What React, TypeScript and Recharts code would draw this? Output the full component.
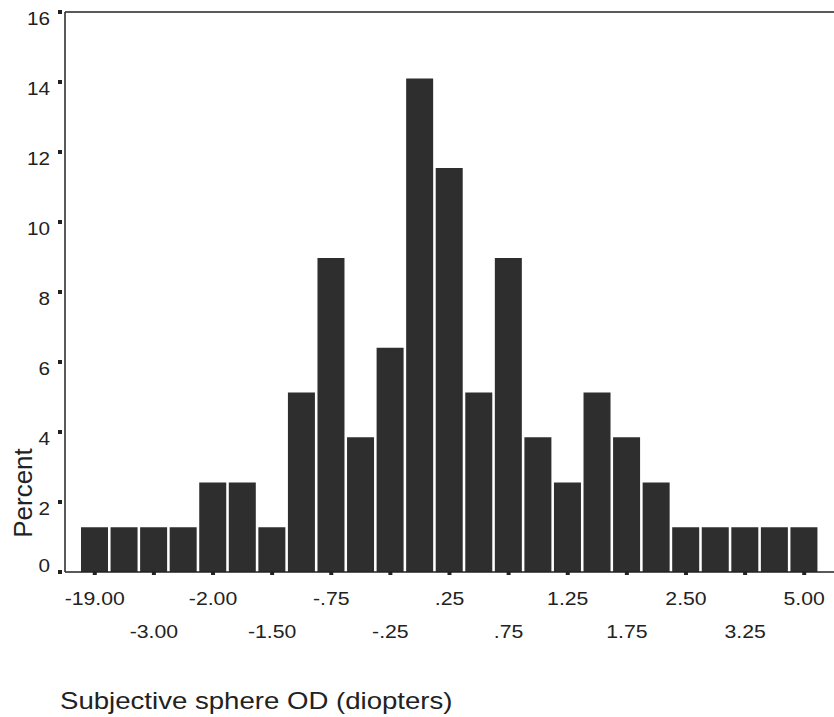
import { BarChart, Bar, XAxis, YAxis, ReferenceLine, Label } from 'recharts'

// refraction bins (diopters); odd bins have no printed label
const categories = [
  '-19.00', '-4.00', '-3.00', '-2.50', '-2.00', '-1.75', '-1.50', '-1.00', '-.75', '-.50',
  '-.25', '.00', '.25', '.50', '.75', '1.00', '1.25', '1.50', '1.75', '2.00',
  '2.50', '2.75', '3.25', '4.00', '5.00',
]
const percents = [
  1.28, 1.28, 1.28, 1.28, 2.56, 2.56, 1.28, 5.13, 8.97, 3.85,
  6.41, 14.1, 11.54, 5.13, 8.97, 3.85, 2.56, 5.13, 3.85, 2.56,
  1.28, 1.28, 1.28, 1.28, 1.28,
]
const yTicks = [0, 2, 4, 6, 8, 10, 12, 14, 16]

const data = categories.map((c, i) => ({ bin: c, percent: percents[i] }))

const INK = '#222'
const FONT = 'Arial, "Liberation Sans", sans-serif'

const XTick = (props: any) => {
  const { x, y, payload } = props
  const i = payload.index
  if (i % 2 !== 0) return null
  const row = (i / 2) % 2
  return (
    <g transform={`translate(${x},${y})`}>
      <rect x={-2} y={0} width={4} height={3} fill={INK} />
      <text
        transform={`translate(0,${row === 0 ? 33 : 66}) scale(1.18,1)`}
        textAnchor="middle"
        fontSize={18}
        fontFamily={FONT}
        fill={INK}
      >
        {payload.value}
      </text>
    </g>
  )
}

const YTick = (props: any) => {
  const { x, y, payload } = props
  const dy = payload.value === 0 ? 0 : 13
  return (
    <g transform={`translate(${x},${y})`}>
      <rect x={-7} y={-2} width={4} height={4} fill={INK} />
      <text
        transform={`translate(-15,${dy}) scale(1.15,1)`}
        textAnchor="end"
        fontSize={18}
        fontFamily={FONT}
        fill={INK}
      >
        {payload.value}
      </text>
    </g>
  )
}

const YTitle = (props: any) => {
  const vb = props.viewBox
  return (
    <text
      transform={`translate(${vb.x + 32},${vb.y + 481}) rotate(-90)`}
      textAnchor="middle"
      fontSize={26}
      fontFamily={FONT}
      fill={INK}
    >
      Percent
    </text>
  )
}

const XTitle = (props: any) => {
  const vb = props.viewBox
  return (
    <text
      transform={`translate(${vb.x - 5},${vb.y + 137}) scale(1.2,1)`}
      fontSize={23}
      fontFamily={FONT}
      fill={INK}
    >
      Subjective sphere OD (diopters)
    </text>
  )
}

export default function App() {
  return (
    <div style={{ position: 'absolute', left: 0, top: 0, background: '#fff' }}>
      <BarChart
        width={834}
        height={717}
        data={data}
        margin={{ top: 12, right: 0, bottom: 0, left: 0 }}
      >
        <XAxis
          dataKey="bin"
          interval={0}
          height={145}
          padding={{ left: 15, right: 15 }}
          tickLine={false}
          tickSize={0}
          tickMargin={0}
          tick={<XTick />}
          axisLine={{ stroke: INK, strokeWidth: 1.5 }}
        >
          <Label content={<XTitle />} />
        </XAxis>
        <YAxis
          width={65}
          domain={[0, 16]}
          ticks={yTicks}
          tickLine={false}
          tickSize={0}
          tickMargin={0}
          tick={<YTick />}
          axisLine={{ stroke: INK, strokeWidth: 1.5 }}
        >
          <Label content={<YTitle />} />
        </YAxis>
        <ReferenceLine y={16} stroke={INK} strokeWidth={1.5} />
        <Bar dataKey="percent" fill="#2e2e2e" barSize={27} isAnimationActive={false} />
      </BarChart>
    </div>
  )
}
